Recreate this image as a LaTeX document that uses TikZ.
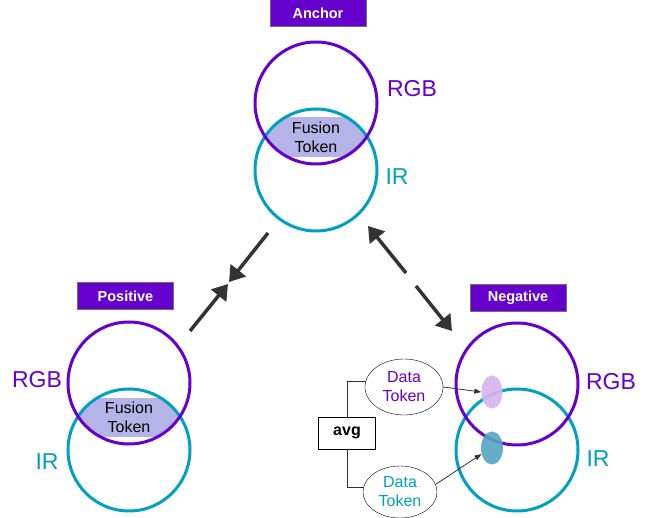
\documentclass[tikz,border=0pt]{standalone}
\usepackage{fontspec}
\setmainfont{Liberation Sans}
\usetikzlibrary{arrows.meta,positioning,shapes.geometric}
\definecolor{rgbcol}{RGB}{102,0,204}
\definecolor{ircol}{RGB}{0,160,192}
\definecolor{fusecol}{RGB}{180,180,232}
\definecolor{arrcol}{RGB}{51,51,51}
\definecolor{rgbtokcol}{RGB}{214,180,236}
\definecolor{irtokcol}{RGB}{84,164,194}

\begin{document}
\begin{tikzpicture}[x=1pt,y=-1pt,
  tag/.style={draw=arrcol!70,fill=rgbcol,text=white,font=\bfseries\fontsize{14.5}{16}\selectfont,
    minimum width=96pt,minimum height=27pt,inner sep=0pt},
  rgbring/.style={circle,draw=rgbcol,line width=3pt,minimum size=122pt,inner sep=0pt},
  irring/.style={circle,draw=ircol,line width=3pt,minimum size=122pt,inner sep=0pt},
  rgblab/.style={text=rgbcol,font=\fontsize{23}{26}\selectfont},
  irlab/.style={text=ircol,font=\fontsize{23}{26}\selectfont},
  fuse/.style={align=center,font=\fontsize{16}{19}\selectfont},
  datatok/.style={ellipse,draw,thin,minimum width=78pt,minimum height=56pt,inner sep=0pt,
    align=center,font=\fontsize{16}{19}\selectfont},
  big/.style={arrcol,line width=3.5pt,-{Triangle[length=15pt,width=19pt]}},
  small/.style={arrcol,line width=0.8pt,-{Triangle[length=7pt,width=5pt]}}]
\useasboundingbox (0,0) rectangle (657,518);

% anchor
\begin{scope}
  \clip (316,103) circle (61pt);
  \clip (316,170) circle (61pt);
  \fill[fusecol] (250,117) rectangle (380,157);
\end{scope}
\node[tag] (anchor) at (318,13) {Anchor};
\node[irring] (air) at (316,170) {};
\node[rgbring] (argb) at (316,103) {};
\node[fuse] (afuse) at (316,137) {Fusion\\Token};
\node[rgblab] (argblab) at (412,89) {RGB};
\node[irlab] (airlab) at (397,177) {IR};

% positive
\begin{scope}
  \clip (129,383) circle (61pt);
  \clip (129,450) circle (61pt);
  \fill[fusecol] (60,398) rectangle (200,437);
\end{scope}
\node[tag] (positive) at (125.5,296) {Positive};
\node[irring] (pir) at (129,450) {};
\node[rgbring] (prgb) at (129,383) {};
\node[fuse] (pfuse) at (129,417) {Fusion\\Token};
\node[rgblab] (prgblab) at (37,380) {RGB};
\node[irlab] (pirlab) at (47,462) {IR};

% negative
\node[tag] (negative) at (518,297.5) {Negative};
\node[irring] (nir) at (517,450) {};
\node[rgbring] (nrgb) at (517,384) {};
\node[ellipse,fill=rgbtokcol,fill opacity=0.9,minimum width=21pt,minimum height=33pt,inner sep=0pt]
  (nrgbtok) at (492,392) {};
\node[ellipse,fill=irtokcol,fill opacity=0.9,minimum width=22pt,minimum height=33pt,inner sep=0pt]
  (nirtok) at (492,448) {};
\node[rgblab] (nrgblab) at (611,382) {RGB};
\node[irlab] (nirlab) at (598,459) {IR};

% data tokens and average
\node[datatok,text=rgbcol] (drgb) at (404,387) {Data\\Token};
\node[datatok,text=ircol,minimum width=74pt,minimum height=52pt] (dir) at (400,492) {Data\\Token};
\node[draw,thin,font=\bfseries\fontsize{16}{18}\selectfont,minimum width=57pt,minimum height=32pt,inner sep=0pt]
  (avg) at (347,433) {avg};
\draw[arrcol,thin] (avg.north) |- (drgb.172);
\draw[arrcol,thin] (avg.south) |- (dir.172);
\draw[small] (drgb.east) -- (nrgbtok.west);
\draw[small] (dir.12) -- (nirtok.210);

% pulls and pushes
\coordinate (pullA) at (268,233);
\coordinate (pullB) at (229,282);
\coordinate (pullC) at (190,331);
\coordinate (pullD) at (228,284);
\coordinate (pushA) at (406,273);
\coordinate (pushB) at (368,226);
\coordinate (pushC) at (416,286);
\coordinate (pushD) at (452,331);
\draw[big] (pullA) -- (pullB);
\draw[big] (pullC) -- (pullD);
\draw[big] (pushA) -- (pushB);
\draw[big] (pushC) -- (pushD);
\end{tikzpicture}
\end{document}
